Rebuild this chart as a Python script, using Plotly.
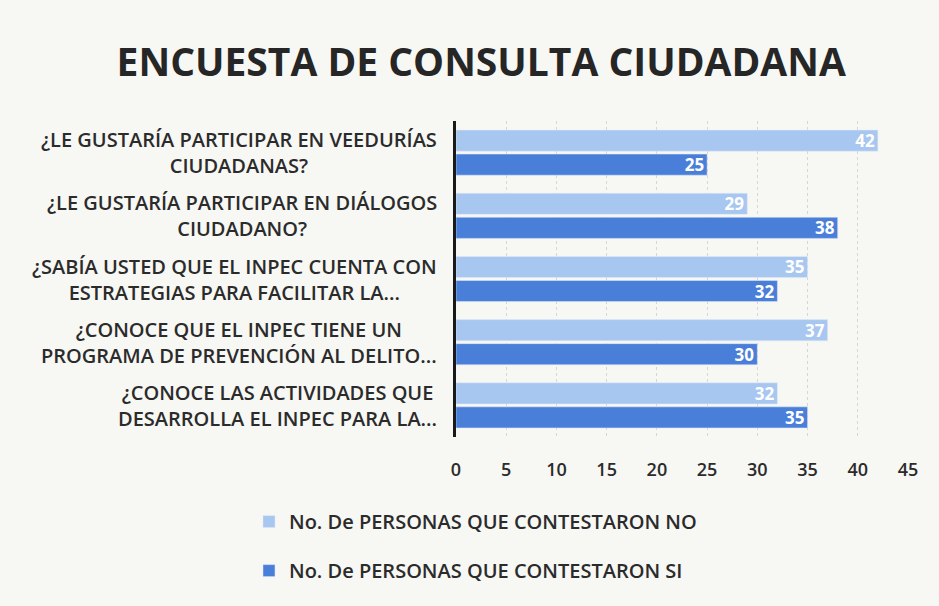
import plotly.graph_objects as go

categories = [
    "¿LE GUSTARÍA PARTICIPAR EN VEEDURÍAS<br>CIUDADANAS?",
    "¿LE GUSTARÍA PARTICIPAR EN DIÁLOGOS<br>CIUDADANO?",
    "¿SABÍA USTED QUE EL INPEC CUENTA CON<br>ESTRATEGIAS PARA FACILITAR LA...",
    "¿CONOCE QUE EL INPEC TIENE UN<br>PROGRAMA DE PREVENCIÓN AL DELITO...",
    "¿CONOCE LAS ACTIVIDADES QUE<br>DESARROLLA EL INPEC PARA LA...",
]
cat_ids = ["c1", "c2", "c3", "c4", "c5"]
no_values = [42, 29, 35, 37, 32]
si_values = [25, 38, 32, 30, 35]
series_names = ["No. De PERSONAS QUE CONTESTARON NO", "No. De PERSONAS QUE CONTESTARON SI"]
x_ticks = [0, 5, 10, 15, 20, 25, 30, 35, 40, 45]

FONT = "Open Sans"
TXT = "#2b2b2b"
BG = "#f7f7f3"

fig = go.Figure()
fig.add_trace(go.Bar(
    y=cat_ids, x=no_values, orientation="h", name=series_names[0],
    marker=dict(color="#a7c7f1"), text=no_values, textposition="inside",
    insidetextanchor="end", textangle=0, constraintext="none",
    textfont=dict(color="white", size=17, family=FONT, weight=700),
    legendgroup="no",
))
fig.add_trace(go.Bar(
    y=cat_ids, x=si_values, orientation="h", name=series_names[1],
    marker=dict(color="#4a7fd9"), text=si_values, textposition="inside",
    insidetextanchor="end", textangle=0, constraintext="none",
    textfont=dict(color="white", size=17, family=FONT, weight=700),
    legendgroup="si",
))

for cid, label in zip(cat_ids, categories):
    fig.add_annotation(
        x=-0.038, xref="paper", y=cid, yref="y", text=label,
        xanchor="right", yanchor="middle", align="center", showarrow=False,
        font=dict(family=FONT, size=20, color=TXT, weight=600),
    )

fig.update_layout(
    width=939, height=606,
    paper_bgcolor=BG, plot_bgcolor=BG,
    margin=dict(l=448, r=39, t=113, b=177, autoexpand=False),
    barmode="group", bargap=0.24, bargroupgap=0.12,
    title=dict(text="<b>ENCUESTA DE CONSULTA CIUDADANA</b>", x=0.504, xanchor="center",
               y=0.91, yanchor="middle",
               font=dict(family=FONT, size=39, color="#262626")),
    xaxis=dict(range=[0, 45], tickvals=x_ticks, showgrid=True,
               gridcolor="#d6d6d6", griddash="dot", gridwidth=1,
               zeroline=False, showline=False,
               tickfont=dict(family=FONT, size=18, color=TXT, weight=600),
               ticklabelstandoff=20, fixedrange=True),
    yaxis=dict(autorange="reversed", showticklabels=False, showline=True,
               linecolor="#1a1a1a", linewidth=3, showgrid=False, ticks=""),
    legend=dict(orientation="v", x=-0.458, xanchor="left", y=-0.206, yanchor="top",
                traceorder="grouped", tracegroupgap=20,
                font=dict(family=FONT, size=20, color=TXT, weight=600),
                itemwidth=30, bgcolor="rgba(0,0,0,0)"),
    showlegend=True,
)

fig.write_html("out.html", post_script="document.body.style.background='%s';" % BG)
